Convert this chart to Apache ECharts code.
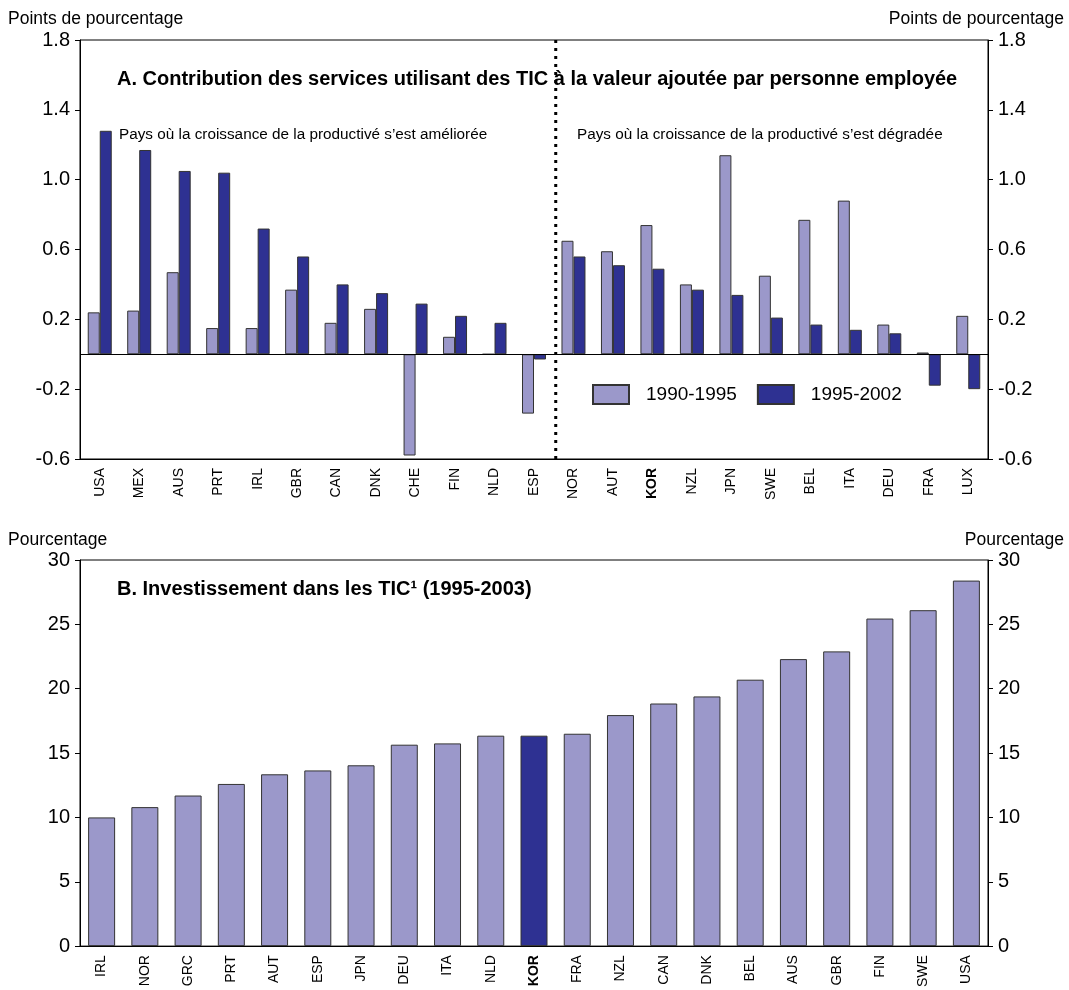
<!DOCTYPE html>
<html><head><meta charset="utf-8">
<script src="https://cdn.jsdelivr.net/npm/echarts@6/dist/echarts.min.js"></script>
<style>html,body{margin:0;padding:0;background:#fff}#c{width:1069px;height:990px}</style>
</head><body><div id="c"></div>
<script>
// Panel A data
const countriesA = ['USA','MEX','AUS','PRT','IRL','GBR','CAN','DNK','CHE','FIN','NLD','ESP','NOR','AUT','KOR','NZL','JPN','SWE','BEL','ITA','DEU','FRA','LUX'];
const contrib1990_1995 = [0.24,0.25,0.47,0.15,0.15,0.37,0.18,0.26,-0.58,0.10,0,-0.34,0.65,0.59,0.74,0.40,1.14,0.45,0.77,0.88,0.17,0.01,0.22];
const contrib1995_2002 = [1.28,1.17,1.05,1.04,0.72,0.56,0.40,0.35,0.29,0.22,0.18,-0.03,0.56,0.51,0.49,0.37,0.34,0.21,0.17,0.14,0.12,-0.18,-0.20];
// Panel B data
const countriesB = ['IRL','NOR','GRC','PRT','AUT','ESP','JPN','DEU','ITA','NLD','KOR','FRA','NZL','CAN','DNK','BEL','AUS','GBR','FIN','SWE','USA'];
const ictInvestment = [10.0,10.8,11.7,12.6,13.35,13.65,14.05,15.65,15.75,16.35,16.35,16.5,17.95,18.85,19.4,20.7,22.3,22.9,25.45,26.1,28.4];
const highlightCountry = 'KOR';

const FONT = '"Liberation Sans", Arial, Helvetica, sans-serif';
const LIGHT = '#9b98ca';
const DARK = '#2e3192';
const BORDER = '#333333';

const chart = echarts.init(document.getElementById('c'), null, {renderer: 'canvas'});

function xLabel() {
  return {
    rotate: 90, fontSize: 14, color: '#000', fontFamily: FONT, margin: 9, interval: 0,
    formatter: v => v === highlightCountry ? '{b|' + v + '}' : v,
    rich: { b: { fontWeight: 'bold', fontSize: 14, color: '#000', fontFamily: FONT } }
  };
}
function yAx(grid, pos, min, max, interval, decimals) {
  return {
    type: 'value', gridIndex: grid, position: pos, min: min, max: max, interval: interval,
    axisLine: { show: true, lineStyle: { color: '#000', width: 1 } },
    axisTick: { show: true, length: 5, lineStyle: { color: '#000' } },
    axisLabel: { fontSize: 20, color: '#000', fontFamily: FONT, margin: 10,
      formatter: v => Number(v).toFixed(decimals) },
    splitLine: { show: false }
  };
}
const txt = (text, left, top, opts) => ({
  text: text, left: left, top: top,
  textStyle: Object.assign({ fontSize: 17.5, fontWeight: 'normal', color: '#000', fontFamily: FONT }, opts || {})
});

const option = {
  animation: false,
  backgroundColor: '#fff',
  title: [
    txt('Points de pourcentage', 3, 5),
    txt('Points de pourcentage', 'right', 5, {}),
    txt('A. Contribution des services utilisant des TIC à la valeur ajoutée par personne employée', 112, 64, { fontSize: 20, fontWeight: 'bold' }),
    txt('Pays où la croissance de la productivé s’est améliorée', 114, 122, { fontSize: 15.3 }),
    txt('Pays où la croissance de la productivé s’est dégradée', 572, 122, { fontSize: 15.3 }),
    txt('Pourcentage', 3, 526),
    txt('Pourcentage', 'right', 526),
    txt('B. Investissement dans les TIC¹ (1995-2003)', 112, 574, { fontSize: 20, fontWeight: 'bold' })
  ],
  legend: {
    data: ['1990-1995', '1995-2002'], left: 587, top: 379, icon: 'rect',
    itemWidth: 36, itemHeight: 19, itemGap: 20,
    textStyle: { fontSize: 19, color: '#000', fontFamily: FONT, padding: [0, 0, 0, 12] }
  },
  grid: [
    { left: 80, right: 81, top: 40, height: 419, show: true, borderColor: '#000', borderWidth: 1, backgroundColor: 'transparent' },
    { left: 80, right: 81, top: 560, height: 388, show: true, borderColor: '#000', borderWidth: 1, backgroundColor: 'transparent' }
  ],
  xAxis: [
    { type: 'category', gridIndex: 0, data: countriesA, axisLine: { onZero: false, lineStyle: { color: '#000' } }, axisTick: { show: false }, axisLabel: xLabel() },
    { type: 'category', gridIndex: 1, data: countriesB, axisLine: { onZero: false, lineStyle: { color: '#000' } }, axisTick: { show: false }, axisLabel: xLabel() }
  ],
  yAxis: [
    yAx(0, 'left', -0.6, 1.8, 0.4, 1),
    yAx(0, 'right', -0.6, 1.8, 0.4, 1),
    yAx(1, 'left', 0, 30, 5, 0),
    yAx(1, 'right', 0, 30, 5, 0)
  ],
  series: [
    {
      name: '1990-1995', type: 'bar', xAxisIndex: 0, yAxisIndex: 0, data: contrib1990_1995,
      barWidth: 12, barGap: '0%',
      itemStyle: { color: LIGHT, borderColor: BORDER, borderWidth: 1 },
      markLine: { silent: true, symbol: 'none', label: { show: false }, lineStyle: { color: '#000', width: 1, type: 'solid' }, data: [{ yAxis: 0 }] }
    },
    {
      name: '1995-2002', type: 'bar', xAxisIndex: 0, yAxisIndex: 0, data: contrib1995_2002,
      barWidth: 12, barGap: '0%',
      itemStyle: { color: DARK, borderColor: BORDER, borderWidth: 1 }
    },
    {
      name: 'TIC', type: 'bar', xAxisIndex: 1, yAxisIndex: 2, barWidth: 27,
      data: ictInvestment.map((v, i) => countriesB[i] === highlightCountry
        ? { value: v, itemStyle: { color: DARK } } : v),
      itemStyle: { color: LIGHT, borderColor: BORDER, borderWidth: 1 }
    }
  ]
};
chart.setOption(option);

// Dotted separator between the two groups of countries (ESP | NOR)
const xL = chart.convertToPixel({ xAxisIndex: 0 }, 'ESP');
const xR = chart.convertToPixel({ xAxisIndex: 0 }, 'NOR');
const xm = (xL + xR) / 2 + 2;
const yT = chart.convertToPixel({ yAxisIndex: 0 }, 1.8);
const yB = chart.convertToPixel({ yAxisIndex: 0 }, -0.6);
chart.setOption({
  graphic: [{
    type: 'line', silent: true, z: 100,
    shape: { x1: xm, y1: yT, x2: xm, y2: yB },
    style: { stroke: '#000', lineWidth: 3, lineDash: [3, 5] }
  }]
});
</script>
</body></html>
